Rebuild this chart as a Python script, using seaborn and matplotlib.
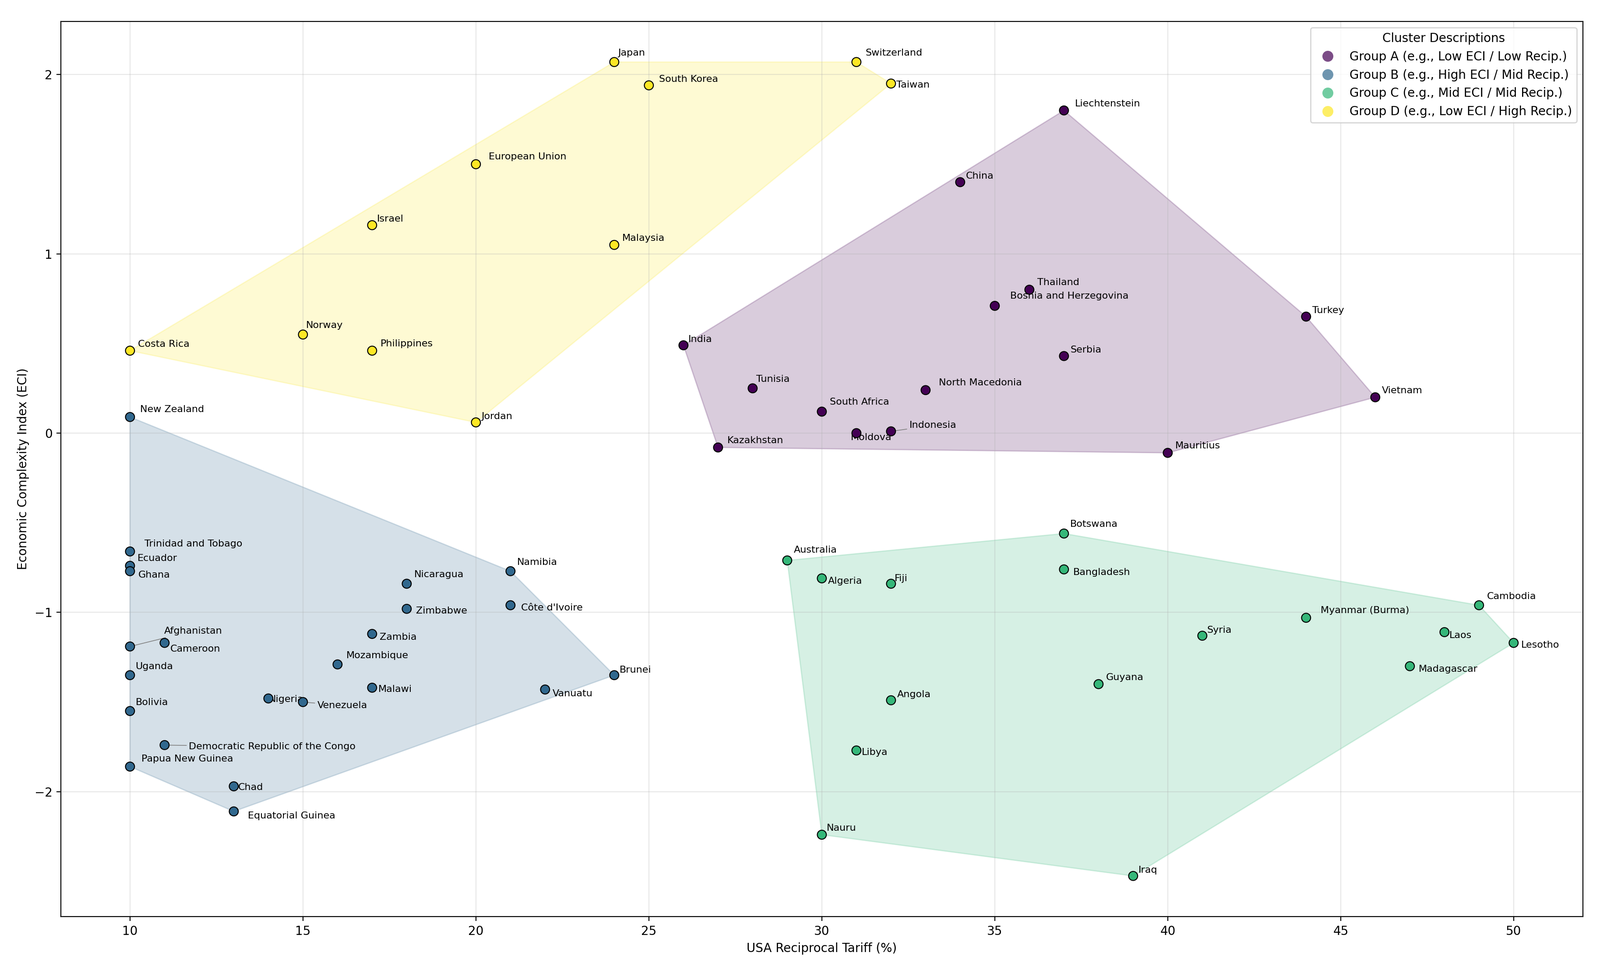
import numpy as np
import pandas as pd
import matplotlib
matplotlib.use('Agg')
import matplotlib.pyplot as plt
import seaborn as sns
from matplotlib.lines import Line2D


# data
countries = ['Japan', 'Switzerland', 'South Korea', 'Taiwan', 'European Union', 'Israel', 'Malaysia',
             'Costa Rica', 'Norway', 'Philippines', 'Jordan',
             'Liechtenstein', 'China', 'Thailand', 'Bosnia and Herzegovina', 'Turkey', 'India', 'Serbia',
             'Tunisia', 'North Macedonia', 'South Africa', 'Vietnam', 'Moldova', 'Indonesia', 'Kazakhstan',
             'Mauritius',
             'New Zealand', 'Trinidad and Tobago', 'Ecuador', 'Ghana', 'Afghanistan', 'Cameroon', 'Uganda',
             'Bolivia', 'Democratic Republic of the Congo', 'Papua New Guinea', 'Chad', 'Equatorial Guinea',
             'Nigeria', 'Venezuela', 'Mozambique', 'Malawi', 'Zambia', 'Nicaragua', 'Zimbabwe', 'Namibia',
             "Côte d'Ivoire", 'Vanuatu', 'Brunei',
             'Botswana', 'Australia', 'Algeria', 'Fiji', 'Bangladesh', 'Cambodia', 'Myanmar (Burma)', 'Syria',
             'Laos', 'Lesotho', 'Madagascar', 'Guyana', 'Angola', 'Libya', 'Nauru', 'Iraq']

tariff = [24, 31, 25, 32, 20, 17, 24, 10, 15, 17, 20,
          37, 34, 36, 35, 44, 26, 37, 28, 33, 30, 46, 31, 32, 27, 40,
          10, 10, 10, 10, 10, 11, 10, 10, 11, 10, 13, 13, 14, 15, 16, 17, 17, 18, 18, 21, 21, 22, 24,
          37, 29, 30, 32, 37, 49, 44, 41, 48, 50, 47, 38, 32, 31, 30, 39]

eci = [2.07, 2.07, 1.94, 1.95, 1.50, 1.16, 1.05, 0.46, 0.55, 0.46, 0.06,
       1.80, 1.40, 0.80, 0.71, 0.65, 0.49, 0.43, 0.25, 0.24, 0.12, 0.20, 0.00, 0.01, -0.08, -0.11,
       0.09, -0.66, -0.74, -0.77, -1.19, -1.17, -1.35, -1.55, -1.74, -1.86, -1.97, -2.11, -1.48, -1.50,
       -1.29, -1.42, -1.12, -0.84, -0.98, -0.77, -0.96, -1.43, -1.35,
       -0.56, -0.71, -0.81, -0.84, -0.76, -0.96, -1.03, -1.13, -1.11, -1.17, -1.30, -1.40, -1.49, -1.77,
       -2.24, -2.47]

cluster = ['D'] * 11 + ['A'] * 15 + ['B'] * 23 + ['C'] * 16

cluster_order = ['A', 'B', 'C', 'D']
cluster_desc = ['Group A (e.g., Low ECI / Low Recip.)',
                'Group B (e.g., High ECI / Mid Recip.)',
                'Group C (e.g., Mid ECI / Mid Recip.)',
                'Group D (e.g., Low ECI / High Recip.)']

df = pd.DataFrame({'country': countries, 'tariff': tariff, 'eci': eci, 'cluster': cluster})

colors = plt.cm.viridis(np.linspace(0, 1, 4))
palette = dict(zip(cluster_order, colors))

# label placement (offset points, vertical alignment) - default is up/right
label_pos = {
    'Japan': (3, 3.8, 'bottom'), 'Switzerland': (7.5, 3.8, 'bottom'), 'South Korea': (8.3, 1.5, 'bottom'),
    'Taiwan': (4.2, -1.3, 'center'), 'European Union': (10.5, 2.5, 'bottom'), 'Israel': (4, 1.5, 'bottom'),
    'Malaysia': (6.5, 1.8, 'bottom'), 'Costa Rica': (6.5, 1.8, 'bottom'), 'Norway': (2.4, 4, 'bottom'),
    'Philippines': (7, 2, 'bottom'), 'Jordan': (4.5, 1.3, 'bottom'),
    'Liechtenstein': (9, 2, 'bottom'), 'China': (4.5, 1.5, 'bottom'), 'Thailand': (6.5, 2.3, 'bottom'),
    'Bosnia and Herzegovina': (12.5, 4.3, 'bottom'), 'Turkey': (5, 1.3, 'bottom'), 'India': (3.9, 1.3, 'bottom'),
    'Serbia': (5.4, 1.5, 'bottom'), 'Tunisia': (3, 3.8, 'bottom'), 'North Macedonia': (11, 2.5, 'bottom'),
    'South Africa': (6.5, 4.3, 'bottom'), 'Vietnam': (5.3, 1.8, 'bottom'), 'Moldova': (-4.5, 0, 'top'),
    'Indonesia': (15, 1.3, 'bottom'), 'Kazakhstan': (7.4, 2, 'bottom'), 'Mauritius': (6, 2.3, 'bottom'),
    'New Zealand': (8.5, 2.5, 'bottom'), 'Trinidad and Tobago': (12, 2.6, 'bottom'), 'Ecuador': (6.2, 2.6, 'bottom'),
    'Ghana': (6.9, 0.5, 'top'), 'Afghanistan': (28, 9.2, 'bottom'), 'Cameroon': (4.8, -1.3, 'top'),
    'Uganda': (4.5, 3.6, 'bottom'), 'Bolivia': (4.5, 3.3, 'bottom'),
    'Democratic Republic of the Congo': (20, -1.3, 'center'), 'Papua New Guinea': (9.3, 2.8, 'bottom'),
    'Chad': (3.4, -0.8, 'center'), 'Equatorial Guinea': (11.7, 0, 'top'), 'Nigeria': (0.5, -0.8, 'center'),
    'Venezuela': (11.7, -2.8, 'center'), 'Mozambique': (7.2, 3.6, 'bottom'), 'Malawi': (5, -1.3, 'center'),
    'Zambia': (6.2, -2.6, 'center'), 'Nicaragua': (6.2, 3.8, 'bottom'), 'Zimbabwe': (7.6, -1.8, 'center'),
    'Namibia': (5.5, 3.8, 'bottom'), "Côte d'Ivoire": (8.6, -2, 'center'), 'Vanuatu': (6.2, -3.3, 'center'),
    'Brunei': (4.5, 4.1, 'center'),
    'Botswana': (5, 4, 'bottom'), 'Australia': (5.4, 4.8, 'bottom'), 'Algeria': (5, -2.3, 'center'),
    'Fiji': (3, 0.8, 'bottom'), 'Bangladesh': (7.4, -2.5, 'center'), 'Cambodia': (6.4, 3.6, 'bottom'),
    'Myanmar (Burma)': (12, 2.3, 'bottom'), 'Syria': (4, 1, 'bottom'), 'Laos': (4, -2.8, 'center'),
    'Lesotho': (6, -1.8, 'center'), 'Madagascar': (7.4, -2.3, 'center'), 'Guyana': (6, 1.8, 'bottom'),
    'Angola': (5, 1, 'bottom'), 'Libya': (4.5, -1.5, 'center'), 'Nauru': (4, 1.8, 'bottom'),
    'Iraq': (4.5, 1.3, 'bottom'),
}
with_line = ['Indonesia', 'Afghanistan', 'Democratic Republic of the Congo', 'Venezuela']


def convex_hull(pts):
    pts = sorted(set(map(tuple, pts)))
    if len(pts) < 3:
        return np.array(pts)

    def cross(o, a, b):
        return (a[0] - o[0]) * (b[1] - o[1]) - (a[1] - o[1]) * (b[0] - o[0])

    lower = []
    for p in pts:
        while len(lower) >= 2 and cross(lower[-2], lower[-1], p) <= 0:
            lower.pop()
        lower.append(p)
    upper = []
    for p in reversed(pts):
        while len(upper) >= 2 and cross(upper[-2], upper[-1], p) <= 0:
            upper.pop()
        upper.append(p)
    return np.array(lower[:-1] + upper[:-1])


fig, ax = plt.subplots(figsize=(18.275, 11.075))

for c in cluster_order:
    sub = df[df['cluster'] == c]
    hull = convex_hull(sub[['tariff', 'eci']].values)
    ax.fill(hull[:, 0], hull[:, 1], color=palette[c], alpha=0.2, lw=1, zorder=1)

sns.scatterplot(data=df, x='tariff', y='eci', hue='cluster', palette=palette, hue_order=cluster_order,
                s=55, edgecolor='black', linewidth=0.8, legend=False, zorder=3, ax=ax)

for _, row in df.iterrows():
    dx, dy, va = label_pos.get(row['country'], (6, 2, 'bottom'))
    arrow = dict(arrowstyle='-', color='gray', lw=0.6, shrinkA=0, shrinkB=3) if row['country'] in with_line else None
    ax.annotate(row['country'], (row['tariff'], row['eci']), xytext=(dx, dy), textcoords='offset points',
                ha='left', va=va, fontsize=8, zorder=2, arrowprops=arrow)

handles = [Line2D([0], [0], marker='o', linestyle='', markersize=9, markerfacecolor=palette[c],
                  markeredgecolor='none', alpha=0.7) for c in cluster_order]
ax.legend(handles, cluster_desc, title='Cluster Descriptions', loc='upper right', fontsize=10,
          title_fontsize=10)

ax.grid(True, alpha=0.3)
ax.set_xlabel('USA Reciprocal Tariff (%)', fontsize=10)
ax.set_ylabel('Economic Complexity Index (ECI)', fontsize=10)

plt.subplots_adjust(left=0.038, right=0.989, top=0.978, bottom=0.055)
plt.savefig('out.png', dpi=200)
